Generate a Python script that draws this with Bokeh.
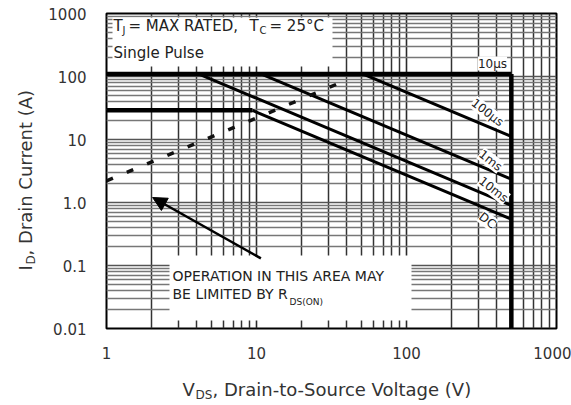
import math
from bokeh.plotting import figure
from bokeh.layouts import row, column
from bokeh.models import (FixedTicker, Label, BoxAnnotation, Arrow, NormalHead,
                          CustomJSTickFormatter)
from bokeh.embed import file_html
from bokeh.resources import INLINE

# ---------------- data ----------------
v_ticks = [1, 10, 100, 1000]
v_tick_labels = ["1", "10", "100", "1000"]
i_ticks = [0.01, 0.1, 1, 10, 100, 1000]
i_tick_labels = ["0.01", "0.1", "1.0", "10", "100", "1000"]

# 10 us limit: pulsed current plateau then BVDSS wall
pulse_v = [1, 500]
pulse_i = [110, 110]
wall_v = [500, 500]
wall_i = [110, 0.01]
# 100 us
us100_v = [51, 500]
us100_i = [110, 11.2]
# 1 ms
ms1_v = [10.7, 500]
ms1_i = [110, 2.35]
# 10 ms
ms10_v = [4.1, 500]
ms10_i = [110, 0.90]
# DC: continuous current plateau then power limit
dc_flat_v = [1, 9.4]
dc_flat_i = [29, 29]
dc_v = [9.4, 500]
dc_i = [29, 0.545]
# RDS(on) limit (dashed)
rds_v = [1, 40]
rds_i = [2.2, 88]
# arrow pointing into the RDS(on) region
arrow_v = [10.7, 2.03]
arrow_i = [0.13, 1.2]

curve_names = ["10µs", "100µs", "1ms", "10ms", "DC"]
note_top = ["T", "J", "= MAX RATED,", "T", "C", "= 25°C", "Single Pulse"]
note_bottom = ["OPERATION IN THIS AREA MAY", "BE LIMITED BY R", "DS(ON)"]
x_title = ["V", "DS", ", Drain-to-Source Voltage (V)"]
y_title = ["I", "D", ", Drain Current (A)"]

# ---------------- layout ----------------
FONT = "DejaVu Sans"
TOTAL_H = 403
LEFT_W = 40                    # strip holding the y title
MAIN_W, MAIN_H = 531, 364      # main chart
FL, FT, PXD_X, PXD_Y = 106, 13, 150.0, 63.0   # frame left/top in page px, px per decade
FRAME_W = 450


def at(cx, cy):
    """page pixel -> data coordinates of the main chart"""
    return 10 ** ((cx - FL) / PXD_X), 10 ** (3 - (cy - FT) / PXD_Y)


p = figure(width=MAIN_W, height=MAIN_H, x_axis_type="log", y_axis_type="log",
           x_range=(1, 1000), y_range=(0.01, 1000), output_backend="svg",
           toolbar_location=None, title=None,
           min_border_left=FL - LEFT_W, min_border_right=MAIN_W - (FL - LEFT_W) - FRAME_W,
           min_border_top=FT, min_border_bottom=36)
p.background_fill_color = "white"
p.border_fill_color = "white"
p.outline_line_color = "black"
p.outline_line_width = 2

minor_v = [m * 10 ** k for k in range(0, 3) for m in range(2, 10)]
minor_i = [m * 10.0 ** k for k in range(-2, 3) for m in range(2, 10)]
p.xaxis.ticker = FixedTicker(ticks=v_ticks, minor_ticks=minor_v)
p.yaxis.ticker = FixedTicker(ticks=i_ticks, minor_ticks=minor_i)

fmt_code = """
for (let k = 0; k < t.length; k++) {
  if (Math.abs(Math.log10(tick) - Math.log10(t[k])) < 1e-6) return l[k];
}
return '';
"""
p.xaxis.formatter = CustomJSTickFormatter(args=dict(t=v_ticks, l=v_tick_labels), code=fmt_code)
p.yaxis.formatter = CustomJSTickFormatter(args=dict(t=i_ticks, l=i_tick_labels), code=fmt_code)

for ax in (p.xaxis, p.yaxis):
    ax.axis_line_color = None
    ax.major_tick_line_color = None
    ax.minor_tick_line_color = None
    ax.major_label_text_font = FONT
    ax.major_label_text_font_size = "15px"
    ax.major_label_text_color = "#333333"
p.xaxis.major_label_standoff = 12
p.yaxis.major_label_standoff = 14

p.xgrid.grid_line_color = "#2a2a2a"
p.xgrid.grid_line_width = 1.6
p.xgrid.minor_grid_line_color = "#333333"
p.xgrid.minor_grid_line_width = 1.5
p.ygrid.grid_line_color = "#555555"
p.ygrid.grid_line_width = 1.5
p.ygrid.minor_grid_line_color = "#777777"
p.ygrid.minor_grid_line_width = 1.4

# ---------------- white note boxes ----------------
l1, t1 = at(112, 17)
r1, b1 = at(332, 66)
p.add_layout(BoxAnnotation(left=l1, right=r1, top=t1, bottom=b1,
                           fill_color="white", fill_alpha=1, line_color=None))
l2, t2 = at(169, 255)
r2, b2 = at(411, 320)
p.add_layout(BoxAnnotation(left=l2, right=r2, top=t2, bottom=b2,
                           fill_color="white", fill_alpha=1, line_color=None))

# ---------------- limit lines ----------------
p.line(pulse_v, pulse_i, line_color="black", line_width=4.5)
p.line(wall_v, wall_i, line_color="black", line_width=4.5)
p.line(dc_flat_v, dc_flat_i, line_color="black", line_width=4.5)
for xs, ys in ((us100_v, us100_i), (ms1_v, ms1_i), (ms10_v, ms10_i), (dc_v, dc_i)):
    p.line(xs, ys, line_color="black", line_width=3)
p.line(rds_v, rds_i, line_color="#111111", line_width=3.5, line_dash="7 15")

p.add_layout(Arrow(end=NormalHead(size=14, fill_color="black", line_color="black"),
                   x_start=arrow_v[0], y_start=arrow_i[0],
                   x_end=arrow_v[1], y_end=arrow_i[1],
                   line_color="black", line_width=2.5))

# ---------------- curve labels ----------------
curve_pos = [(492, 63, 0.0), (487, 112, -0.66), (490, 160, -0.66),
             (493, 189, -0.66), (487, 220, -0.66)]
for name, (cx, cy, ang) in zip(curve_names, curve_pos):
    x, y = at(cx, cy)
    p.add_layout(Label(x=x, y=y, text=name, angle=ang, text_align="center",
                       text_baseline="middle", text_font=FONT,
                       text_font_size="12px", text_color="#222222",
                       background_fill_color="white", background_fill_alpha=1))


def put(text, cx, cy, size, angle=0.0, color="#222222"):
    x, y = at(cx, cy)
    p.add_layout(Label(x=x, y=y, text=text, angle=angle, text_align="left",
                       text_baseline="middle", text_font=FONT,
                       text_font_size=f"{size}px", text_color=color))


# top-left note
put(note_top[0], 113, 25, 15)
put(note_top[1], 122, 30, 10)
put(note_top[2], 128, 25, 15)
put(note_top[3], 249, 25, 15)
put(note_top[4], 259, 30, 10)
put(note_top[5], 269, 25, 15)
put(note_top[6], 113, 52, 15)

# bottom note
put(note_bottom[0], 172, 275, 14)
put(note_bottom[1], 172, 293, 14)
put(note_bottom[2], 289, 301, 9)


# ---------------- axis-title strips (own small figures) ----------------
def strip(w, h, xr):
    f = figure(width=w, height=h, x_range=xr, y_range=(0, h),
               output_backend="svg", toolbar_location=None, title=None,
               x_axis_location=None, y_axis_location=None,
               min_border=0, min_border_left=0, min_border_right=0,
               min_border_top=0, min_border_bottom=0)
    f.outline_line_color = None
    f.xgrid.visible = False
    f.ygrid.visible = False
    f.background_fill_color = "white"
    f.border_fill_color = "white"
    return f


def put_strip(f, oy, text, cx, cy, size, angle=0.0):
    f.add_layout(Label(x=cx, y=f.height - (cy - oy), text=text, angle=angle,
                       text_align="left", text_baseline="middle", text_font=FONT,
                       text_font_size=f"{size}px", text_color="#333333"))


# y-title strip: its x range is page pixels 0..LEFT_W
ystrip = strip(LEFT_W, TOTAL_H, (0, LEFT_W))
put_strip(ystrip, 0, y_title[0], 25, 270, 18, math.pi / 2)
put_strip(ystrip, 0, y_title[1], 30, 264, 12, math.pi / 2)
put_strip(ystrip, 0, y_title[2], 25, 255, 18, math.pi / 2)

# x-title strip: its frame is aligned with the chart frame, so its x range is
# expressed in page pixels over the frame span
xstrip = strip(MAIN_W, TOTAL_H - MAIN_H, (FL, FL + FRAME_W))
put_strip(xstrip, MAIN_H, x_title[0], 182, 389, 18)
put_strip(xstrip, MAIN_H, x_title[1], 195, 394, 12)
put_strip(xstrip, MAIN_H, x_title[2], 212, 389, 18)

layout = row(ystrip, column(p, xstrip, spacing=0), spacing=0)

open("out.html", "w").write(file_html(layout, INLINE))
